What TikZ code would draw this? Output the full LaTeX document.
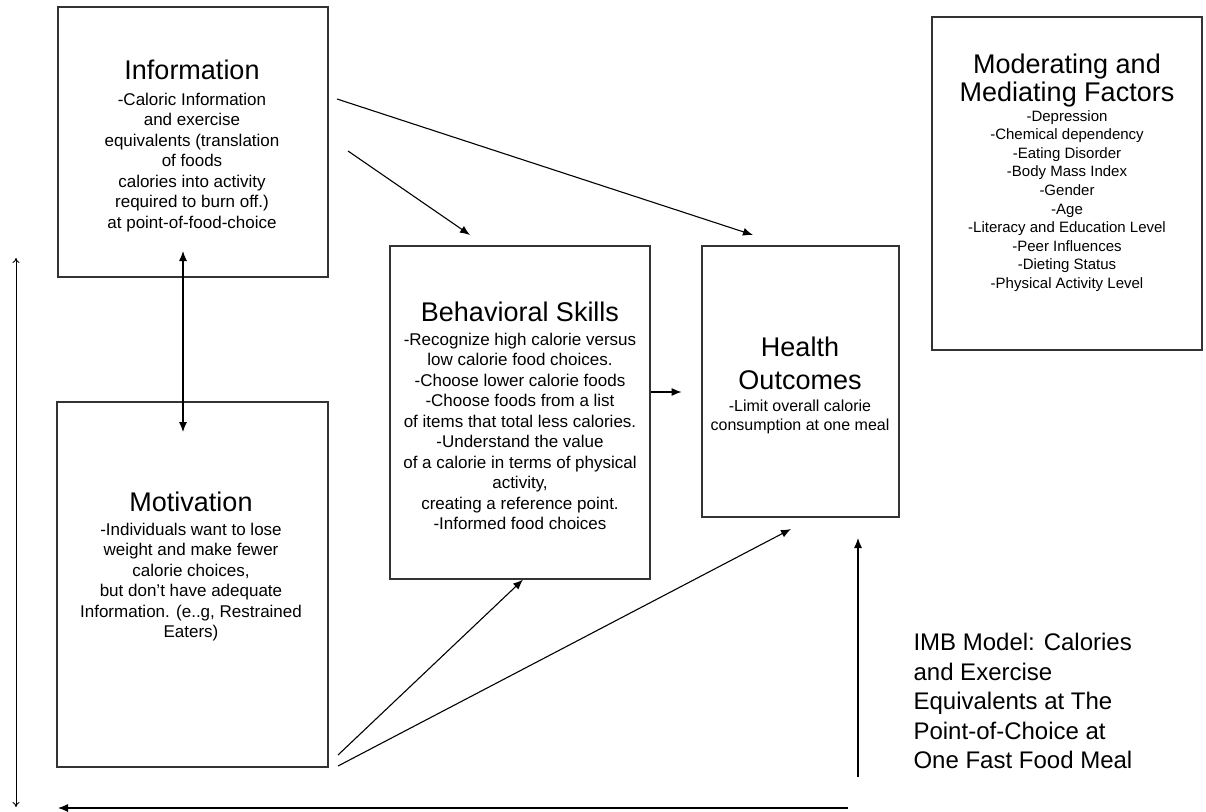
\documentclass[tikz,border=0pt]{standalone}
\usepackage{fontspec}
\setmainfont{Liberation Sans}
\usetikzlibrary{arrows.meta, positioning}

\begin{document}
\begin{tikzpicture}[
  x=1pt, y=-1pt,
  box/.style={draw=black!80, line width=1.2pt, rectangle, inner sep=0pt},
  title/.style={font=\fontsize{27}{30}\selectfont, align=center, inner sep=0pt},
  body/.style={font=\fontsize{17}{20.5}\selectfont, align=center, inner sep=0pt},
  >={Latex[length=10pt,width=8pt]}, line width=1.1pt]

  \useasboundingbox (0,0) rectangle (1206,811);

  \node[box, minimum width=270pt, minimum height=270pt] (info) at (193,142) {};
  \node[box, minimum width=271pt, minimum height=365pt] (motiv) at (192.5,584.5) {};
  \node[box, minimum width=260pt, minimum height=333pt] (behav) at (520,412.5) {};
  \node[box, minimum width=197pt, minimum height=271pt] (health) at (800.5,381.5) {};
  \node[box, minimum width=270pt, minimum height=333pt] (factors) at (1067,183.5) {};

  \node[title] (infoT) at (192,70) {Information};
  \node[body, below=12pt of infoT] (infoB) {-Caloric Information\\and exercise\\equivalents (translation\\of foods\\calories into activity\\required to burn off.)\\at point-of-food-choice};

  \node[title] (motivT) at (191,502) {Motivation};
  \node[body, below=10pt of motivT] (motivB) {-Individuals want to lose\\weight and make fewer\\calorie choices,\\but don't have adequate\\Information. (e..g, Restrained\\Eaters)};

  \node[title] (behavT) at (520,312) {Behavioral Skills};
  \node[body, below=10pt of behavT] (behavB) {-Recognize high calorie versus\\low calorie food choices.\\-Choose lower calorie foods\\-Choose foods from a list\\of items that total less calories.\\-Understand the value\\of a calorie in terms of physical\\activity,\\creating a reference point.\\-Informed food choices};

  \node[title, font=\fontsize{27}{33}\selectfont] (healthT) at (800,363.4) {Health\\Outcomes};
  \node[body, font=\fontsize{16}{18.5}\selectfont, below=9pt of healthT] (healthB) {-Limit overall calorie\\consumption at one meal};

  \node[title, font=\fontsize{27}{28}\selectfont] (factorsT) at (1067,80.5) {Moderating and\\Mediating Factors};
  \node[body, font=\fontsize{15}{18.6}\selectfont, below=2pt of factorsT] (factorsB) {-Depression\\-Chemical dependency\\-Eating Disorder\\-Body Mass Index\\-Gender\\-Age\\-Literacy and Education Level\\-Peer Influences\\-Dieting Status\\-Physical Activity Level};

  \node[font=\fontsize{24}{29.5}\selectfont, align=left, inner sep=0pt, anchor=north west] (imb) at (913,633) {IMB Model: Calories\\and Exercise\\Equivalents at The\\Point-of-Choice at\\One Fast Food Meal};

  \coordinate (infoTip) at (183,251);
  \coordinate (motivTip) at (183,432);
  \coordinate (infoOutA) at (337,99);
  \coordinate (infoOutB) at (348,151);
  \coordinate (behavIn) at (470,235);
  \coordinate (healthInTop) at (753,235);
  \coordinate (motivOutA) at (338,755);
  \coordinate (motivOutB) at (338,766);
  \coordinate (healthInLow) at (791,529);
  \coordinate (upStart) at (858,777);
  \coordinate (upTip) at (858,538);
  \coordinate (backStart) at (848,808);
  \coordinate (backTip) at (58,808);
  \coordinate (sideTop) at (16,258);
  \coordinate (sideBot) at (16,807);

  \draw[<->] (motivTip) -- (infoTip);
  \draw[->] (infoOutB) -- (behavIn);
  \draw[->] (infoOutA) -- (healthInTop);
  \draw[->] ([yshift=20.5pt]behav.east) -- ([yshift=20.5pt, xshift=31pt]behav.east);
  \draw[->] (motivOutA) -- ([xshift=3pt]behav.south);
  \draw[->] (motivOutB) -- (healthInLow);
  \draw[->] (upStart) -- (upTip);
  \draw[->] (backStart) -- (backTip);
  \draw[{To[length=5pt,width=7pt]}-{To[length=5pt,width=7pt]}, line width=0.9pt] (sideTop) -- (sideBot);
\end{tikzpicture}
\end{document}
